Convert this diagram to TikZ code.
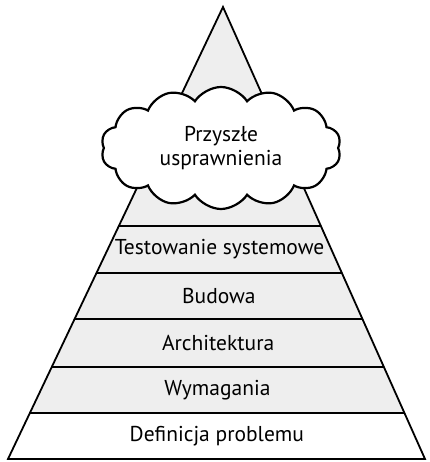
\documentclass[tikz,border=0pt]{standalone}
\usepackage{fontspec}
\setmainfont{PT Sans}
\usetikzlibrary{calc, shapes.symbols}

\begin{document}
\begin{tikzpicture}[x=1pt, y=-1pt, font=\fontsize{21.5}{24}\selectfont,
  band/.style={line width=1.8pt, black},
  label/.style={inner sep=0pt, anchor=center}]
  \useasboundingbox (0,0) rectangle (429,462);

  % Corners of the pyramid
  \coordinate (apex) at (223,7);
  \coordinate (bl) at (8,459);
  \coordinate (br) at (425,459);

  % Grey body, white lowest band
  \fill[gray!13] (apex) -- (bl) -- (br) -- cycle;
  \fill[white] ($(apex)!0.8982!(bl)$) -- (bl) -- (br) -- ($(apex)!0.8982!(br)$) -- cycle;

  % Dividing lines between the layers
  \foreach \t/\name in {0.4845/a, 0.5885/b, 0.6903/c, 0.7965/d, 0.8982/e, 1/f}{
    \coordinate (l\name) at ($(apex)!\t!(bl)$);
    \coordinate (r\name) at ($(apex)!\t!(br)$);
    \coordinate (m\name) at ($(l\name)!0.5!(r\name)$);
    \draw[band] (l\name) -- (r\name);
  }
  \draw[band, line join=miter] (apex) -- (bl) -- (br) -- cycle;

  % Layer labels
  \node[label] (test) at ($(ma)!0.5!(mb)$) {Testowanie systemowe};
  \node[label] (bud) at ($(mb)!0.5!(mc)$) {Budowa};
  \node[label] (arch) at ($(mc)!0.5!(md)$) {Architektura};
  \node[label] (wym) at ($(md)!0.5!(me)$) {Wymagania};
  \node[label] (def) at ($(me)!0.5!(mf)$) {Definicja problemu};

  % Cloud on top
  \node[cloud, draw, fill=white, line width=2.2pt, cloud puffs=14,
    cloud puff arc=115, aspect=2.1, minimum width=240pt, minimum height=122pt,
    align=center, inner sep=0pt] (future) at (221,148)
    {Przyszłe\\[0pt]usprawnienia};
\end{tikzpicture}
\end{document}
